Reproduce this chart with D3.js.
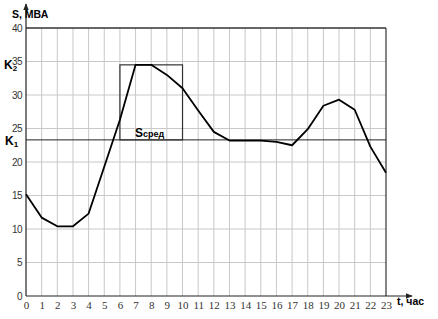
<!DOCTYPE html>
<html>
<head>
<meta charset="utf-8">
<script src="https://cdn.jsdelivr.net/npm/d3@7"></script>
<style>
  body { margin: 0; background: #fff; }
  svg { display: block; }
</style>
</head>
<body>
<svg width="438" height="319"></svg>
<script>
// load curve S(t), MVA by hour
const hours = d3.range(0, 24);
const load  = [15.2, 11.7, 10.4, 10.4, 12.3, 19.3, 26.3, 34.5, 34.5, 33.0, 31.0, 27.7,
               24.5, 23.2, 23.2, 23.2, 23.0, 22.5, 24.9, 28.4, 29.3, 27.8, 22.3, 18.4];
const k1 = 23.3;                      // average-load level
const peakBox = { from: 6, to: 10, top: 34.5 };
const yTicks = [0, 5, 10, 15, 20, 25, 30, 35, 40];

const svg = d3.select("svg");
const x = d3.scaleLinear().domain([0, 23]).range([26, 386]);
const y = d3.scaleLinear().domain([0, 40]).range([296, 28]);

// grid
svg.append("g")
    .selectAll("line")
    .data(hours.slice(1, -1))
    .join("line")
      .attr("x1", d => x(d)).attr("x2", d => x(d))
      .attr("y1", y(0)).attr("y2", y(40))
      .attr("stroke", "#c8c8c8");

svg.append("g")
    .selectAll("line")
    .data(yTicks.slice(1, -1))
    .join("line")
      .attr("x1", x(0)).attr("x2", x(23))
      .attr("y1", d => y(d)).attr("y2", d => y(d))
      .attr("stroke", "#c8c8c8");

// frame top + right
svg.append("line")
    .attr("x1", x(0)).attr("x2", x(23)).attr("y1", y(40)).attr("y2", y(40))
    .attr("stroke", "#333").attr("stroke-width", 1.6);
svg.append("line")
    .attr("x1", x(23)).attr("x2", x(23)).attr("y1", y(40)).attr("y2", y(0))
    .attr("stroke", "#333").attr("stroke-width", 1.2);

// axes with arrows
svg.append("defs").append("marker")
    .attr("id", "arrow")
    .attr("viewBox", "0 0 10 10")
    .attr("refX", 9).attr("refY", 5)
    .attr("markerWidth", 6).attr("markerHeight", 6)
    .attr("orient", "auto")
  .append("path")
    .attr("d", "M0,1L10,5L0,9Z")
    .attr("fill", "#222");

svg.append("line")
    .attr("x1", x(0)).attr("x2", x(0)).attr("y1", y(0)).attr("y2", 4)
    .attr("stroke", "#222").attr("stroke-width", 1.2)
    .attr("marker-end", "url(#arrow)");
svg.append("line")
    .attr("x1", x(0)).attr("x2", 412).attr("y1", y(0)).attr("y2", y(0))
    .attr("stroke", "#222").attr("stroke-width", 1.2)
    .attr("marker-end", "url(#arrow)");

// tick labels
const xAxis = svg.append("g")
    .attr("transform", `translate(0,${y(0)})`)
    .call(d3.axisBottom(x).tickValues(hours).tickSize(0).tickPadding(5).tickFormat(d3.format("d")));
xAxis.select(".domain").remove();
xAxis.selectAll("text")
    .attr("font-family", "Liberation Serif, serif")
    .attr("font-size", 11)
    .attr("fill", "#333");

const yAxis = svg.append("g")
    .attr("transform", `translate(${x(0)},0)`)
    .call(d3.axisLeft(y).tickValues(yTicks).tickSize(0).tickPadding(4));
yAxis.select(".domain").remove();
yAxis.selectAll("text")
    .attr("font-family", "Liberation Sans, Arial, sans-serif")
    .attr("font-size", 10)
    .attr("letter-spacing", -0.5)
    .attr("fill", "#333");

// K1 level
svg.append("line")
    .attr("x1", x(0)).attr("x2", x(23))
    .attr("y1", y(k1)).attr("y2", y(k1))
    .attr("stroke", "#222").attr("stroke-width", 1);

// S avg rectangle
svg.append("rect")
    .attr("x", x(peakBox.from))
    .attr("y", y(peakBox.top))
    .attr("width", x(peakBox.to) - x(peakBox.from))
    .attr("height", y(k1) - y(peakBox.top))
    .attr("fill", "none")
    .attr("stroke", "#333").attr("stroke-width", 1.2);

// load curve
svg.append("path")
    .datum(load)
    .attr("fill", "none")
    .attr("stroke", "#000")
    .attr("stroke-width", 1.8)
    .attr("stroke-linejoin", "round")
    .attr("d", d3.line().x((d, i) => x(hours[i])).y(d => y(d)));

// labels
const bold = "Liberation Sans, Arial, sans-serif";

svg.append("text")
    .attr("x", 12).attr("y", 18)
    .attr("font-family", bold).attr("font-weight", "bold").attr("font-size", 10.5)
    .text("S, МВА");

svg.append("text")
    .attr("x", 397).attr("y", 305)
    .attr("font-family", bold).attr("font-weight", "bold").attr("font-size", 10.5)
    .text("t, час");

const sAvg = svg.append("text")
    .attr("x", 135).attr("y", y(k1) - 3)
    .attr("font-family", bold).attr("font-weight", "bold");
sAvg.append("tspan").attr("font-size", 12).text("S");
sAvg.append("tspan").attr("font-size", 9).text("сред");

const k1Label = svg.append("text")
    .attr("x", 5).attr("y", 145)
    .attr("font-family", bold).attr("font-weight", "bold");
k1Label.append("tspan").attr("font-size", 12).text("K");
k1Label.append("tspan").attr("font-size", 8).attr("dy", 2).text("1");

const k2Label = svg.append("text")
    .attr("x", 4).attr("y", 69)
    .attr("font-family", bold).attr("font-weight", "bold");
k2Label.append("tspan").attr("font-size", 12).text("K");
k2Label.append("tspan").attr("font-size", 8).attr("dy", 2).text("2");
</script>
</body>
</html>
